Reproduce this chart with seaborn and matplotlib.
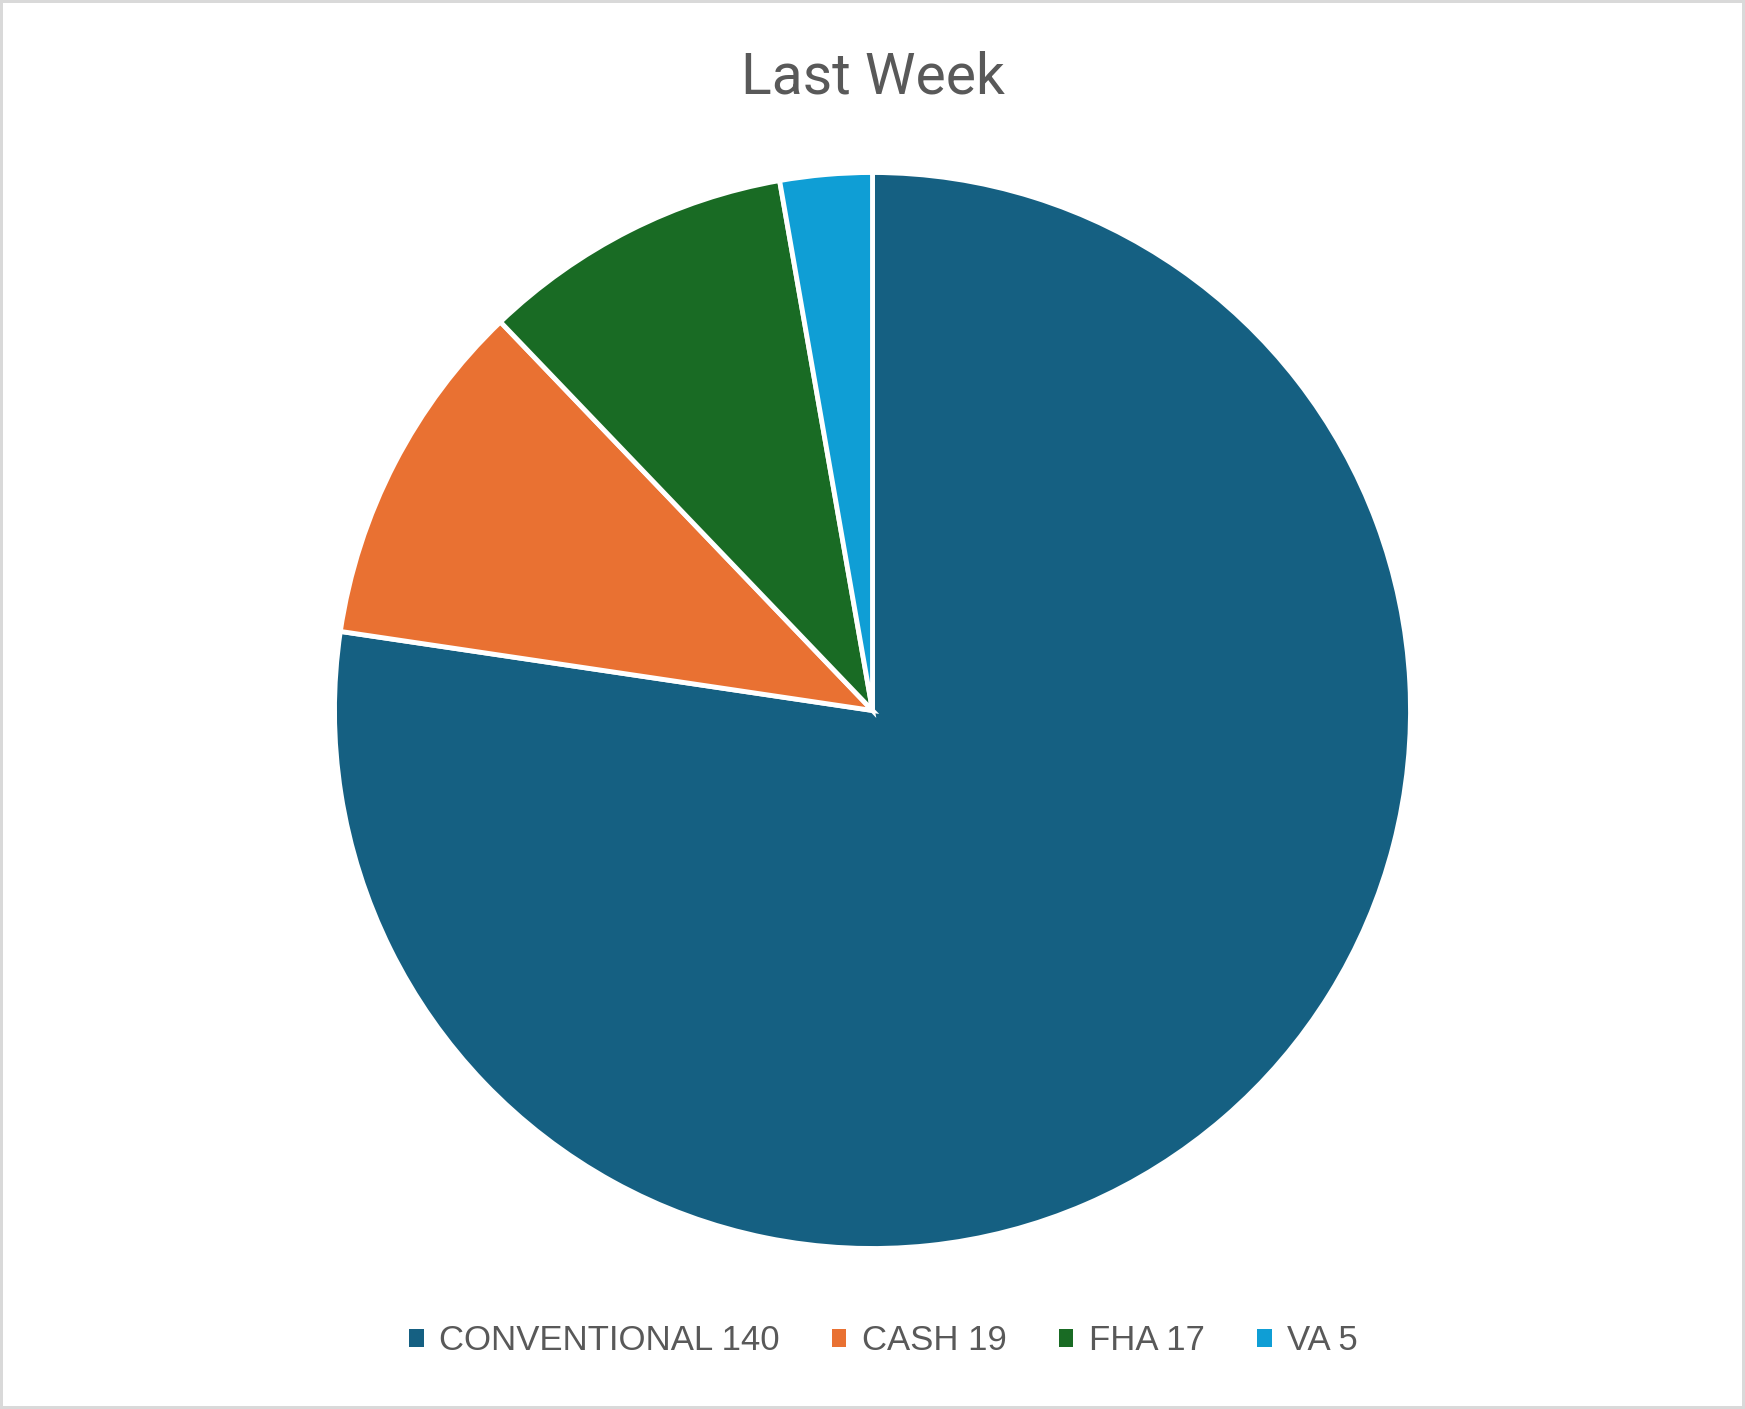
import matplotlib
matplotlib.use('Agg')
import matplotlib.pyplot as plt
import seaborn as sns
from matplotlib.patches import Patch

# дані
categories = ['CONVENTIONAL', 'CASH', 'FHA', 'VA']
counts = [140, 19, 17, 5]
colors = ['#156082', '#E97132', '#196B24', '#0F9ED5']
legend_labels = [f'{c} {v}' for c, v in zip(categories, counts)]

sns.set_theme(style='white')
plt.rcParams['font.family'] = ['Roboto', 'DejaVu Sans']

W, H = 1745, 1409
fig = plt.figure(figsize=(W / 100, H / 100), dpi=100)
fig.patch.set_facecolor('white')
fig.patch.set_edgecolor('#D9D9D9')
fig.patch.set_linewidth(4)

# розміщення круга
cx, cy, r = 872.5, 710.5, 538
ax = fig.add_axes([(cx - r) / W, (H - cy - r) / H, 2 * r / W, 2 * r / H])
ax.pie(counts, colors=colors, startangle=90, counterclock=False, radius=1,
       wedgeprops=dict(edgecolor='white', linewidth=3.5))
ax.set_xlim(-1, 1)
ax.set_ylim(-1, 1)
ax.axis('off')

fig.text(0.5, 1 - 78 / H, 'Last Week', ha='center', va='center',
         fontsize=41, color='#595959', family=['Roboto', 'DejaVu Sans'])

handles = [Patch(facecolor=c, edgecolor='none') for c in colors]
fig.legend(handles, legend_labels, loc='center', ncol=4,
           bbox_to_anchor=(0.5 + 11 / W, 1 - 1341 / H), frameon=False,
           prop={'family': ['Liberation Sans', 'DejaVu Sans'], 'size': 25},
           labelcolor='#595959', handlelength=0.42, handleheight=0.42,
           handletextpad=0.45, columnspacing=1.5)

fig.savefig('out.png', dpi=100)
